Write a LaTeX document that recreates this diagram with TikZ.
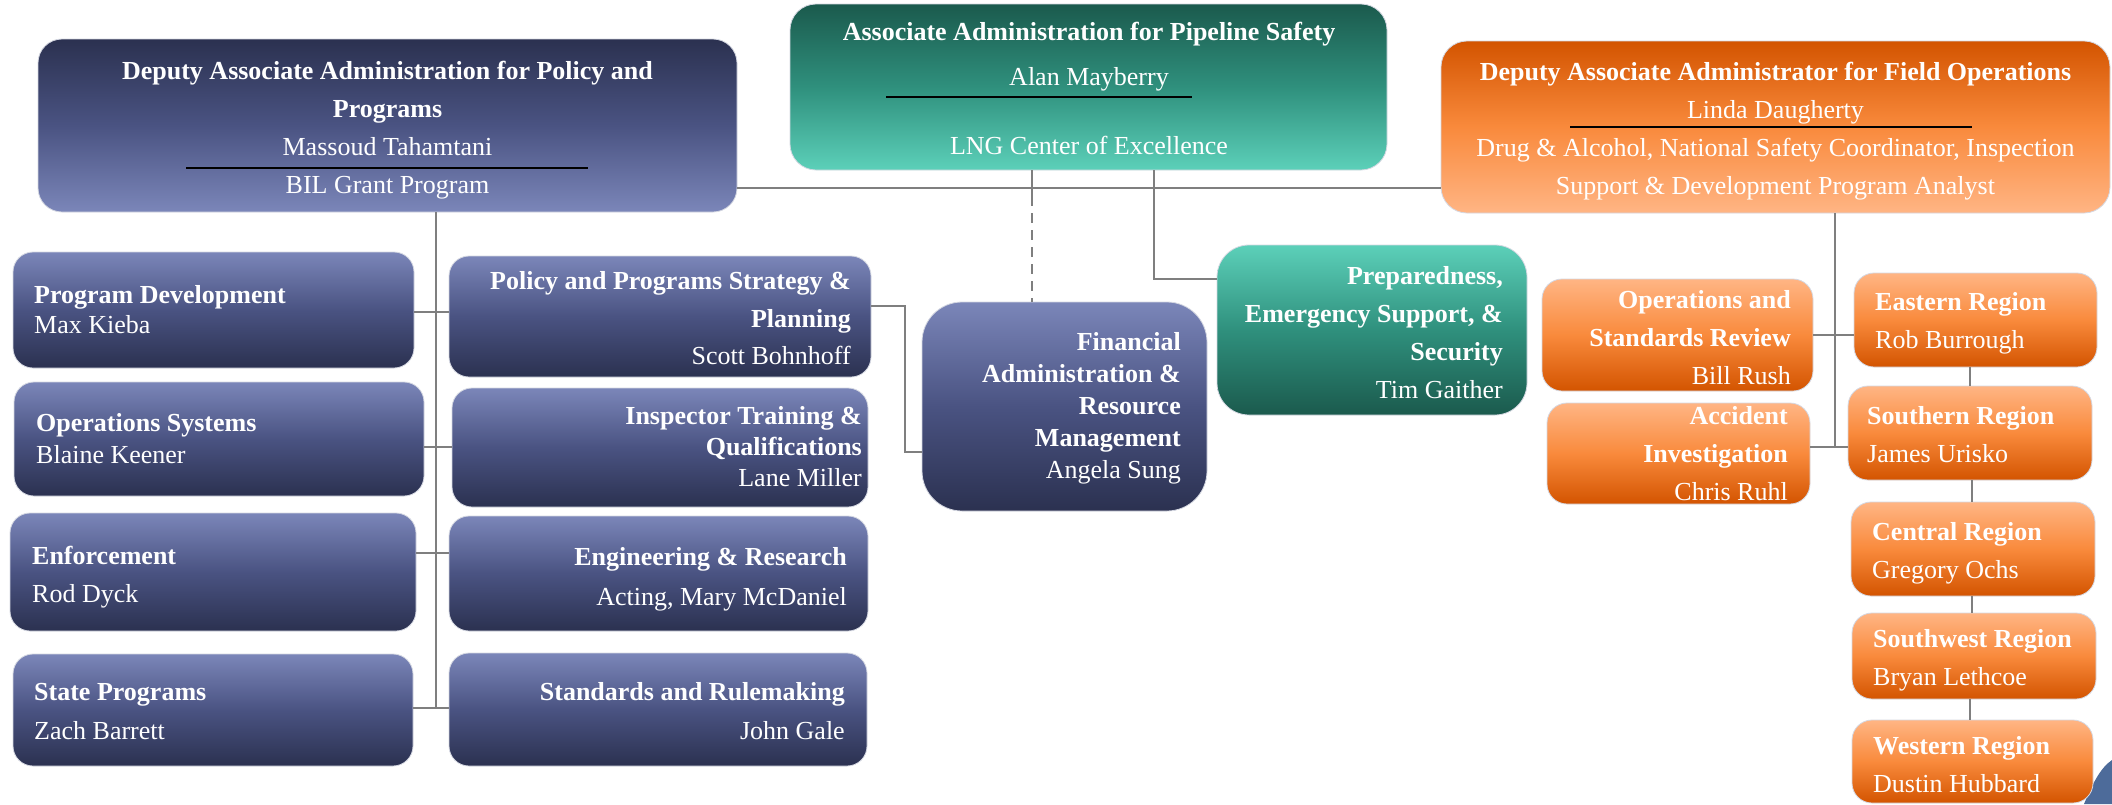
\documentclass[tikz,border=0pt]{standalone}
\usepackage{fontspec}
\setmainfont{Liberation Serif}
\definecolor{bluelt}{HTML}{7B86B9}
\definecolor{bluemd}{HTML}{4A5382}
\definecolor{bluedk}{HTML}{2B3150}
\definecolor{teallt}{HTML}{5CD0B9}
\definecolor{tealmd}{HTML}{2F907D}
\definecolor{tealdk}{HTML}{1B5A4D}
\definecolor{orglt}{HTML}{FFB584}
\definecolor{orgmd}{HTML}{F98A3C}
\definecolor{orgdk}{HTML}{D35400}
\definecolor{linegray}{HTML}{7F7F7F}
\definecolor{edgegray}{HTML}{D5D8E2}
\definecolor{swooshc}{HTML}{4D6B9A}
\newcommand\tabL[1]{\begin{tabular}{@{}l@{}}#1\end{tabular}}
\newcommand\tabR[1]{\begin{tabular}{@{}r@{}}#1\end{tabular}}
\newcommand\tabC[1]{\begin{tabular}{@{}c@{}}#1\end{tabular}}
\begin{document}
\begin{tikzpicture}[x=1pt,y=-1pt,
  sz/.style 2 args={minimum width=#1pt,minimum height=#2pt},
  card/.style={draw=edgegray,line width=0.8pt,rounded corners=20pt,inner sep=0pt},
  bluebox/.style={card,top color=bluelt,bottom color=bluedk,middle color=bluemd},
  bluehead/.style={card,top color=bluedk,bottom color=bluelt,middle color=bluemd},
  tealbox/.style={card,top color=teallt,bottom color=tealdk,middle color=tealmd},
  tealhead/.style={card,top color=tealdk,bottom color=teallt,middle color=tealmd},
  orgbox/.style={card,top color=orglt,bottom color=orgdk,middle color=orgmd},
  orghead/.style={card,top color=orgdk,bottom color=orglt,middle color=orgmd},
  txt/.style={text=white,inner sep=0pt,font=\fontsize{26}{38}\selectfont},
  conn/.style={draw=linegray,line width=2pt},
  rulel/.style={draw=black,line width=2pt}]
\useasboundingbox (0,0) rectangle (2112,804);
\fill[white] (0,0) rectangle (2112,804);
% decorative swoosh bottom right
\fill[swooshc] (2084,804) .. controls (2092,785) and (2100,768) .. (2112,760) -- (2112,804) -- cycle;

% boxes
\node[bluehead, sz={699}{173}, rounded corners=24pt] (PT) at (387.5,125.5) {};
\node[tealhead, sz={597}{166}, rounded corners=26pt] (T) at (1088.5,87) {};
\node[orghead, sz={669}{172}, rounded corners=26pt] (FO) at (1775.5,127) {};
\node[bluebox, sz={401}{116}] (PD) at (213.5,310) {};
\node[bluebox, sz={410}{114}] (OS) at (219,439) {};
\node[bluebox, sz={406}{118}] (EN) at (213,572) {};
\node[bluebox, sz={400}{112}] (SP) at (213,710) {};
\node[bluebox, sz={422}{121}] (PS) at (660,316.5) {};
\node[bluebox, sz={416}{119}] (IT) at (660,447.5) {};
\node[bluebox, sz={419}{115}] (ER) at (658.5,573.5) {};
\node[bluebox, sz={418}{113}] (SR) at (658,709.5) {};
\node[bluebox, sz={285}{209}, rounded corners=40pt] (FA) at (1064.5,406.5) {};
\node[tealbox, sz={310}{170}, rounded corners=32pt] (PR) at (1372,330) {};
\node[orgbox, sz={271}{112}] (OR) at (1677.5,335) {};
\node[orgbox, sz={263}{101}] (AI) at (1678.5,453.5) {};
\node[orgbox, sz={243}{94}] (EA) at (1975.5,320) {};
\node[orgbox, sz={244}{94}] (SO) at (1970,433) {};
\node[orgbox, sz={244}{94}] (CE) at (1973,549) {};
\node[orgbox, sz={244}{86}] (SW) at (1974,656) {};
\node[orgbox, sz={241}{83}] (WE) at (1972.5,761.5) {};

% connectors
\draw[conn] (PT.east |- 0,188) -- (FO.west |- 0,188);
\draw[conn] (T.south -| 1032,0) -- (1032,196);
\draw[conn, dash pattern=on 10pt off 7pt] (1032,196) -- (FA.north -| 1032,0);
\draw[conn] (T.south -| 1154,0) |- (PR.west |- 0,279);
\draw[conn] (PT.south -| 436,0) -- (436,708);
\draw[conn] (PD.east |- 0,312) -- (PS.west |- 0,312);
\draw[conn] (OS.east |- 0,447) -- (IT.west |- 0,447);
\draw[conn] (EN.east |- 0,553) -- (ER.west |- 0,553);
\draw[conn] (SP.east |- 0,708) -- (SR.west |- 0,708);
\draw[conn] (PS.east |- 0,306) -- (905,306) |- (FA.west |- 0,452);
\draw[conn] (FO.south -| 1835,0) -- (1835,447);
\draw[conn] (OR.east |- 0,335) -- (EA.west |- 0,335);
\draw[conn] (AI.east |- 0,447) -- (SO.west |- 0,447);
\draw[conn] (EA.south -| 1970,0) -- (SO.north -| 1970,0);
\draw[conn] (SO.south -| 1972,0) -- (CE.north -| 1972,0);
\draw[conn] (CE.south -| 1972,0) -- (SW.north -| 1972,0);
\draw[conn] (SW.south -| 1970,0) -- (WE.north -| 1970,0);

% rules inside head boxes
\draw[rulel] (886,97) -- (1192,97);
\draw[rulel] (186,168) -- (588,168);
\draw[rulel] (1570,127) -- (1972,127);

% texts
\node[txt] (Tt) at (1089,90) {\tabC{\textbf{Associate Administration for Pipeline Safety}\\[7pt] Alan Mayberry\\[31pt] LNG Center of Excellence}};
\node[txt] (PTt) at (387.5,128.5) {\tabC{\textbf{Deputy Associate Administration for Policy and}\\ \textbf{Programs}\\ Massoud Tahamtani\\ BIL Grant Program}};
\node[txt] (FOt) at (1775.5,130) {\tabC{\textbf{Deputy Associate Administrator for Field Operations}\\ Linda Daugherty\\ Drug \& Alcohol, National Safety Coordinator, Inspection\\ Support \& Development Program Analyst}};
\node[txt, anchor=west, font=\fontsize{26}{30}\selectfont] (PDt) at (34,312) {\tabL{\textbf{Program Development}\\ Max Kieba}};
\node[txt, anchor=west, font=\fontsize{26}{32}\selectfont] (OSt) at (36,441) {\tabL{\textbf{Operations Systems}\\ Blaine Keener}};
\node[txt, anchor=west] (ENt) at (32,576) {\tabL{\textbf{Enforcement}\\ Rod Dyck}};
\node[txt, anchor=west, font=\fontsize{26}{39}\selectfont] (SPt) at (34,712.5) {\tabL{\textbf{State Programs}\\ Zach Barrett}};
\node[txt, anchor=east, font=\fontsize{26}{37.5}\selectfont] (PSt) at (851,319.5) {\tabR{\textbf{Policy and Programs Strategy \&}\\ \textbf{Planning}\\ Scott Bohnhoff}};
\node[txt, anchor=east, font=\fontsize{26}{31}\selectfont] (ITt) at (862,449) {\tabR{\textbf{Inspector Training \&}\\ \textbf{Qualifications}\\ Lane Miller}};
\node[txt, anchor=east, font=\fontsize{26}{40}\selectfont] (ERt) at (847,577) {\tabR{\textbf{Engineering \& Research}\\ Acting, Mary McDaniel}};
\node[txt, anchor=east, font=\fontsize{26}{39}\selectfont] (SRt) at (845,712.5) {\tabR{\textbf{Standards and Rulemaking}\\ John Gale}};
\node[txt, anchor=east, font=\fontsize{26}{32}\selectfont] (FAt) at (1181,408) {\tabR{\textbf{Financial}\\ \textbf{Administration \&}\\ \textbf{Resource}\\ \textbf{Management}\\ Angela Sung}};
\node[txt, anchor=east] (PRt) at (1503,333.5) {\tabR{\textbf{Preparedness,}\\ \textbf{Emergency Support, \&}\\ \textbf{Security}\\ Tim Gaither}};
\node[txt, anchor=east] (ORt) at (1791,339) {\tabR{\textbf{Operations and}\\ \textbf{Standards Review}\\ Bill Rush}};
\node[txt, anchor=east] (AIt) at (1788,455) {\tabR{\textbf{Accident}\\ \textbf{Investigation}\\ Chris Ruhl}};
\node[txt, anchor=west] (EAt) at (1875,322) {\tabL{\textbf{Eastern Region}\\ Rob Burrough}};
\node[txt, anchor=west] (SOt) at (1867,435.5) {\tabL{\textbf{Southern Region}\\ James Urisko}};
\node[txt, anchor=west] (CEt) at (1872,552) {\tabL{\textbf{Central Region}\\ Gregory Ochs}};
\node[txt, anchor=west] (SWt) at (1873,659) {\tabL{\textbf{Southwest Region}\\ Bryan Lethcoe}};
\node[txt, anchor=west] (WEt) at (1873,765.5) {\tabL{\textbf{Western Region}\\ Dustin Hubbard}};
\end{tikzpicture}
\end{document}
